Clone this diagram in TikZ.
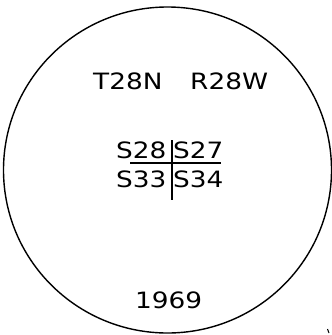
\documentclass[tikz,border=0pt]{standalone}
\usepackage{fontspec}
\setmainfont{DejaVu Sans}
\begin{document}
\begin{tikzpicture}[x=1pt,y=-1pt,
  lbl/.style={anchor=base west, inner sep=0pt, xscale=1.17, font=\fontsize{22.5}{25}\selectfont},
  ln/.style={line width=1.3pt}]
\useasboundingbox (0,0) rectangle (332,335);
\coordinate (c) at (167.5,170);
\draw[line width=1.4pt] (c) ellipse [x radius=164, y radius=163];
\node[lbl] (t) at (93,89) {T28N};
\node[lbl] (r) at (190,89) {R28W};
\node[lbl] (s28) at (116,158) {S28};
\node[lbl] (s27) at (173,158) {S27};
\node[lbl] (s33) at (116,187) {S33};
\node[lbl] (s34) at (173,187) {S34};
\node[lbl] (y) at (135,308) {1969};
\coordinate (vt) at (172,140);
\coordinate (vb) at (172,200);
\coordinate (hl) at (130,163);
\coordinate (hr) at (221,163);
\draw[ln] (vt) -- (vb);
\draw[ln] (hl) -- (hr);
\coordinate (m1) at (327.5,329);
\coordinate (m2) at (329,333);
\draw[line width=1pt] (m1) -- (m2);
\end{tikzpicture}
\end{document}
